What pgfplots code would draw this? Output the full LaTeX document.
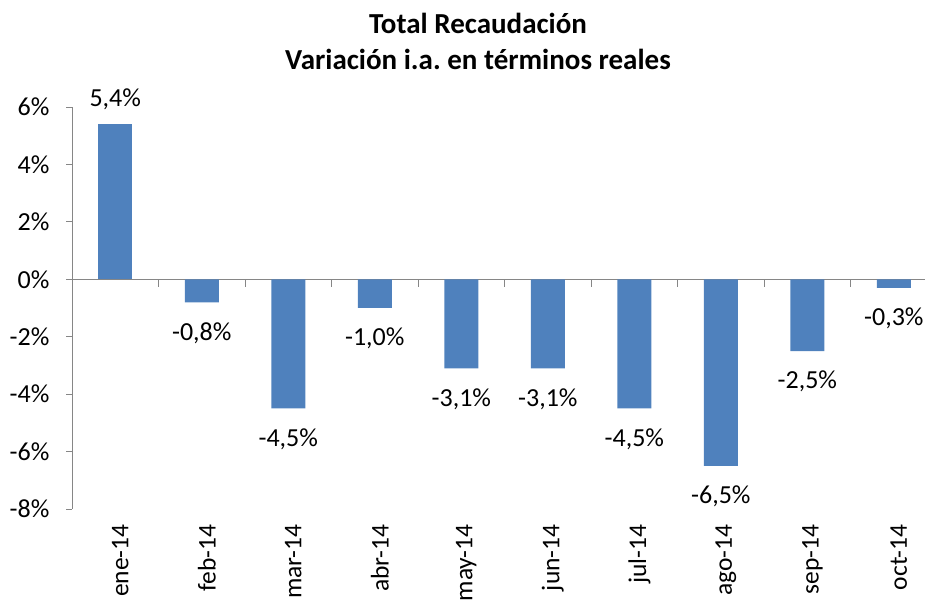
\documentclass[border=0pt]{standalone}
\usepackage{pgfplots}
\pgfplotsset{compat=1.18}
\usepackage{fontspec}
\setmainfont{Carlito}
\frenchspacing
\definecolor{barblue}{HTML}{4F81BD}
\definecolor{axgray}{HTML}{868686}
\begin{document}
\begin{tikzpicture}
\useasboundingbox (0,0) rectangle (925pt,601pt);
\node[font=\fontsize{29}{36}\selectfont\bfseries, align=center] at (478pt,560pt) {Total Recaudación\\Variación i.a.\ en términos reales};
\begin{axis}[
  at={(72pt,92pt)}, anchor=south west,
  scale only axis, width=853pt, height=402pt,
  xmin=-0.5, xmax=9.36, ymin=-8, ymax=6,
  axis y line*=left,
  axis x line*=bottom,
  x axis line style={draw=none},
  xtick style={draw=none},
  y axis line style={draw=axgray, line width=0.8pt},
  ytick={-8,-6,...,6},
  xtick={0,...,9},
  xticklabels={ene-14,feb-14,mar-14,abr-14,may-14,jun-14,jul-14,ago-14,sep-14,oct-14},
  xticklabel style={font=\fontsize{25.5}{30}\selectfont, rotate=90, anchor=east, xshift=-6pt, yshift=-5pt},
  tick align=outside,
  major tick length=6pt,
  ytick style={draw=axgray, line width=0.8pt},
  yticklabel={\pgfmathprintnumber{\tick}\%},
  /pgf/number format/assume math mode=true,
  yticklabel style={font=\fontsize{26}{30}\selectfont, xshift=-13pt},
  clip=false,
  ybar, bar width=34pt,
  point meta=explicit symbolic,
  nodes near coords,
  nodes near coords style={font=\fontsize{26}{30}\selectfont, inner sep=0pt, outer sep=0pt, text=black},
]
\draw[axgray, line width=0.8pt] (axis cs:-0.5,0) -- (axis cs:9.36,0);
\pgfplotsinvokeforeach{0.5,1.5,2.5,3.5,4.5,5.5,6.5,7.5,8.5}{
  \draw[axgray, line width=0.8pt] (axis cs:#1,0) -- ([yshift=-8pt]axis cs:#1,0);
}
\addplot[fill=barblue, draw=none, bar shift=0pt, every node near coord/.append style={anchor=south, yshift=14pt}] coordinates {(0,5.4) [5,4\%]};
\addplot[fill=barblue, draw=none, bar shift=0pt, every node near coord/.append style={anchor=north, yshift=-20pt}] coordinates {
(1,-0.8) [-0,8\%]
(2,-4.5) [-4,5\%]
(3,-1.0) [-1,0\%]
(4,-3.1) [-3,1\%]
(5,-3.1) [-3,1\%]
(6,-4.5) [-4,5\%]
(7,-6.5) [-6,5\%]
(8,-2.5) [-2,5\%]
(9,-0.3) [-0,3\%]
};
\end{axis}
\end{tikzpicture}
\end{document}
